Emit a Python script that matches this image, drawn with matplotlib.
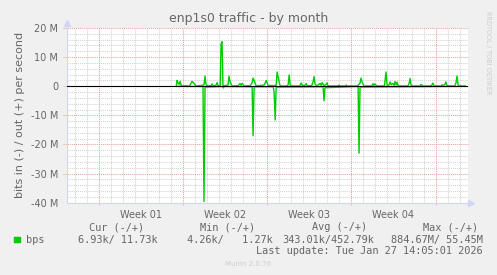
import matplotlib
matplotlib.use('Agg')
import matplotlib.pyplot as plt
import numpy as np

W, H = 497, 275

# time in days since the start of Week 01, traffic in Mbit/s
out_days = [6.45, 6.51, 6.59, 6.68, 6.76, 6.84, 6.93,
            7.50, 7.59, 7.76, 7.84, 7.92, 8.09,
            8.60, 8.75, 8.84, 8.92, 9.08,
            9.35, 9.42, 9.50, 9.75, 9.85, 9.92,
            10.10, 10.17, 10.25, 10.33, 10.42,
            10.75, 10.83, 10.92, 11.08,
            11.60, 11.75, 11.83, 11.92, 12.08,
            12.60, 12.75, 12.83, 12.92, 13.08,
            13.50, 13.75, 13.83, 13.92, 14.08,
            14.50, 14.75, 14.83, 14.92, 15.08,
            15.60, 15.75, 15.83, 15.92, 16.10,
            16.70, 16.84, 16.92, 17.10, 17.25, 17.33,
            17.70, 17.82, 17.90, 17.98, 18.10,
            18.32, 18.40, 18.50, 18.57, 18.73, 18.90, 18.98, 19.06,
            19.90, 19.98, 20.05, 20.50, 20.56, 20.65,
            21.50, 21.72, 21.80, 21.89, 22.05,
            22.70, 22.80, 22.88, 22.97, 23.10,
            23.75, 23.88, 23.97, 24.10, 24.22, 24.30, 24.45, 24.55, 24.63, 24.72, 24.80, 24.90,
            25.70, 25.80, 25.88, 25.96, 26.10,
            26.70, 26.79, 26.87, 26.95,
            27.60, 27.70, 27.78, 27.86, 28.00,
            28.45, 28.53, 28.60, 28.75, 28.86, 28.94, 29.05,
            29.60, 29.70, 29.78, 29.87, 30.00, 30.45]
out_mbps = [0.1, 2.0, 1.2, 0.6, 1.7, 0.5, 0.1,
            0.1, 0.4, 1.7, 1.3, 1.0, 0.1,
            0.3, 0.5, 3.5, 0.5, 0.1,
            0.2, 0.8, 0.2, 0.3, 1.3, 0.2,
            0.1, 14.5, 15.3, 0.3, 0.2,
            0.4, 3.5, 1.5, 0.1,
            0.2, 0.9, 0.3, 1.0, 0.1,
            0.2, 1.2, 2.8, 2.0, 0.1,
            0.3, 0.4, 1.0, 2.0, 0.3,
            0.2, 0.3, 4.9, 3.0, 0.1,
            0.1, 0.5, 3.9, 0.3, 0.1,
            0.1, 1.1, 0.3, 0.2, 0.9, 0.2,
            0.2, 1.5, 3.3, 0.8, 0.1,
            0.6, 1.0, 0.3, 1.2, 0.2, 0.6, 1.2, 0.1,
            0.1, 0.4, 0.1, 0.1, 0.4, 0.1,
            0.1, 1.0, 2.8, 1.5, 0.1,
            0.1, 0.9, 0.3, 0.8, 0.1,
            0.1, 4.9, 0.3, 0.2, 1.5, 0.5, 1.0, 0.3, 1.6, 0.4, 1.4, 0.1,
            0.1, 1.0, 2.7, 0.3, 0.1,
            0.1, 0.6, 0.4, 0.1,
            0.1, 0.5, 1.1, 0.2, 0.1,
            0.1, 0.5, 0.2, 0.5, 1.5, 0.3, 0.1,
            0.1, 1.2, 3.5, 0.5, 0.1, 0.1]

in_days = [6.45, 8.67, 8.75, 8.84, 10.30, 10.36, 10.42,
           12.75, 12.83, 12.92, 14.50, 14.58, 14.67, 14.75,
           18.65, 18.73, 18.81, 21.56, 21.64, 21.72, 30.45]
in_mbps = [0.05, 0.1, 39.6, 0.3, 0.1, 0.6, 0.1,
           0.2, 17.0, 0.2, 0.2, 2.0, 11.6, 0.3,
           0.2, 5.0, 0.5, 0.1, 23.0, 0.3, 0.05]

week_labels = ['Week 01', 'Week 02', 'Week 03', 'Week 04']
week_starts = [0, 7, 14, 21, 28]
y_ticks = [-40, -30, -20, -10, 0, 10, 20]
y_tick_labels = ['-40 M', '-30 M', '-20 M', '-10 M', '0', '10 M', '20 M']

legend_headers = ['Cur (-/+)', 'Min (-/+)', 'Avg (-/+)', 'Max (-/+)']
legend_values = ['6.93k/ 11.73k', '4.26k/   1.27k', '343.01k/452.79k', '884.67M/ 55.45M']
last_update = 'Last update: Tue Jan 27 14:05:01 2026'

FONT = '#666666'
AXIS = '#CFD6F8'
GREEN = '#00CC00'

fig = plt.figure(figsize=(W / 100, H / 100), dpi=100, facecolor='#F0F0F0')
x0, x1, ytop, ybot = 66.7, 467.7, 28.0, 202.7
ax = fig.add_axes([x0 / W, 1 - ybot / H, (x1 - x0) / W, (ybot - ytop) / H])
ax.set_facecolor('white')

xmin, xmax = -2.66, 30.67
ax.set_xlim(xmin, xmax)
ax.set_ylim(-40, 20)

# grid like rrdtool: minor dotted gray, major dotted red
dot = (0, (1, 1))
for d in np.arange(-2, 31, 1):
    if d not in week_starts:
        ax.axvline(d, color='#d2d2d2', lw=0.75, ls=dot, zorder=1)
for v in np.arange(-38, 20, 2):
    if v % 10 != 0:
        ax.axhline(v, color='#d2d2d2', lw=0.75, ls=dot, zorder=1)
for d in week_starts:
    ax.axvline(d, ymin=-0.015, color='#e6a0a0', lw=0.75, ls=dot, zorder=1, clip_on=False)
for v in y_ticks:
    if v != -40:
        ax.axhline(v, xmin=-0.01, color='#e6a0a0', lw=0.75, ls=dot, zorder=1, clip_on=False)

ax.plot(in_days, -np.array(in_mbps), color=GREEN, lw=1.0, zorder=3)
ax.plot(out_days, out_mbps, color=GREEN, lw=1.0, zorder=3)
ax.axhline(0, color='black', lw=0.8, zorder=4)

for s in ['top', 'right']:
    ax.spines[s].set_visible(False)
for s in ['left', 'bottom']:
    ax.spines[s].set_color(AXIS)
    ax.spines[s].set_linewidth(0.8)
ax.plot([0], [1.03], marker='^', ms=4, color=AXIS, transform=ax.transAxes, clip_on=False)
ax.plot([1.008], [0], marker='>', ms=4, color=AXIS, transform=ax.transAxes, clip_on=False)

ax.set_yticks(y_ticks)
ax.set_yticklabels(y_tick_labels)
ax.set_xticks([w + 3.5 for w in week_starts[:4]])
ax.set_xticklabels(week_labels)
ax.tick_params(length=0, labelsize=7, colors=FONT, pad=5)
ax.tick_params(axis='y', pad=6)

ax.set_ylabel('bits in (-) / out (+) per second', fontsize=8, color=FONT, labelpad=4)

fig.text(0.5, 1 - 22 / H, 'enp1s0 traffic - by month', ha='center', va='baseline',
         fontsize=9, color=FONT)
fig.text(488 / W, 1 - 53 / H, 'RRDTOOL / TOBI OETIKER', rotation=270, ha='center',
         va='center', fontsize=4.7, color='#cccccc')
fig.text(248 / W, 1 - 264 / H, 'Munin 2.0.76', ha='center', va='center',
         fontsize=5, color='#cccccc')

mono = 'DejaVu Sans Mono'
header_x = [89, 200, 312, 423]
value_x = [78, 186.7, 282.7, 391]
for hx, txt in zip(header_x, legend_headers):
    fig.text(hx / W, 1 - 230.5 / H, txt, family=mono, fontsize=7.4, color=FONT, va='baseline')
for vx, txt in zip(value_x, legend_values):
    fig.text(vx / W, 1 - 242.7 / H, txt, family=mono, fontsize=7.4, color=FONT, va='baseline')
fig.text(26.3 / W, 1 - 242.7 / H, 'bps', family=mono, fontsize=7.4, color=FONT, va='baseline')
fig.patches.append(plt.Rectangle((14 / W, 1 - 242.3 / H), 5.5 / W, 5.5 / H,
                                 transform=fig.transFigure, color=GREEN))
fig.text(482.7 / W, 1 - 254 / H, last_update, family=mono, fontsize=7.4, color=FONT,
         va='baseline', ha='right')

fig.savefig('out.png', dpi=100, facecolor=fig.get_facecolor())
